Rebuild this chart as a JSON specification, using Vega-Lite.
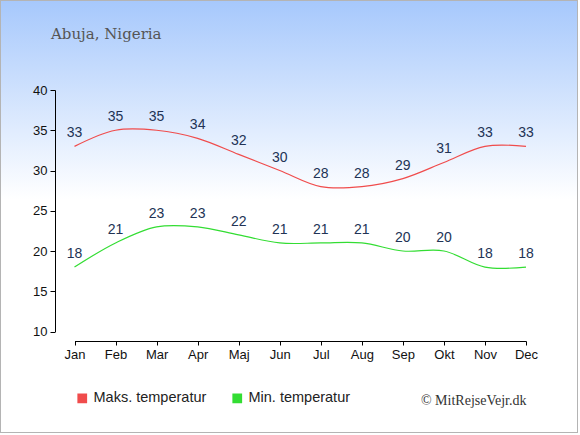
{
  "$schema": "https://vega.github.io/schema/vega-lite/v6.json",
  "width": 578,
  "height": 433,
  "padding": 0,
  "autosize": "none",
  "background": "white",
  "config": {
    "view": {
      "fill": {"gradient": "linear", "x1": 0, "y1": 0, "x2": 0, "y2": 1,
        "stops": [{"offset": 0, "color": "#a6c8fc"}, {"offset": 0.46, "color": "#ffffff"}, {"offset": 1, "color": "#ffffff"}]},
      "stroke": "#b4b4b4",
      "strokeWidth": 2
    },
    "font": "Liberation Sans"
  },
  "title": {
    "text": "Abuja, Nigeria",
    "anchor": "start",
    "frame": "group",
    "orient": "top",
    "font": "DejaVu Serif",
    "fontSize": 15,
    "fontWeight": "normal",
    "color": "#555555",
    "baseline": "alphabetic",
    "offset": 0,
    "dx": 51,
    "dy": 54
  },
  "data": {
    "values": [
      {"month": "Jan", "series": "Maks. temperatur", "temp": 33},
      {"month": "Feb", "series": "Maks. temperatur", "temp": 35},
      {"month": "Mar", "series": "Maks. temperatur", "temp": 35},
      {"month": "Apr", "series": "Maks. temperatur", "temp": 34},
      {"month": "Maj", "series": "Maks. temperatur", "temp": 32},
      {"month": "Jun", "series": "Maks. temperatur", "temp": 30},
      {"month": "Jul", "series": "Maks. temperatur", "temp": 28},
      {"month": "Aug", "series": "Maks. temperatur", "temp": 28},
      {"month": "Sep", "series": "Maks. temperatur", "temp": 29},
      {"month": "Okt", "series": "Maks. temperatur", "temp": 31},
      {"month": "Nov", "series": "Maks. temperatur", "temp": 33},
      {"month": "Dec", "series": "Maks. temperatur", "temp": 33},
      {"month": "Jan", "series": "Min. temperatur", "temp": 18},
      {"month": "Feb", "series": "Min. temperatur", "temp": 21},
      {"month": "Mar", "series": "Min. temperatur", "temp": 23},
      {"month": "Apr", "series": "Min. temperatur", "temp": 23},
      {"month": "Maj", "series": "Min. temperatur", "temp": 22},
      {"month": "Jun", "series": "Min. temperatur", "temp": 21},
      {"month": "Jul", "series": "Min. temperatur", "temp": 21},
      {"month": "Aug", "series": "Min. temperatur", "temp": 21},
      {"month": "Sep", "series": "Min. temperatur", "temp": 20},
      {"month": "Okt", "series": "Min. temperatur", "temp": 20},
      {"month": "Nov", "series": "Min. temperatur", "temp": 18},
      {"month": "Dec", "series": "Min. temperatur", "temp": 18}
    ]
  },
  "encoding": {
    "x": {
      "field": "month",
      "type": "ordinal",
      "sort": null,
      "scale": {"type": "point", "padding": 0, "range": [74.5, 526]},
      "axis": {
        "orient": "bottom",
        "offset": -92,
        "labelAngle": 0,
        "labelFont": "Liberation Sans",
        "labelFontSize": 13,
        "labelColor": "#111111",
        "labelPadding": 3,
        "tickSize": 4,
        "tickColor": "#000000",
        "domainColor": "#000000",
        "grid": false,
        "title": "© MitRejseVejr.dk",
        "titleFont": "Liberation Serif",
        "titleFontSize": 14,
        "titleFontWeight": "normal",
        "titleColor": "#333333",
        "titleX": 526,
        "titleY": 63,
        "titleAlign": "right",
        "titleAnchor": null,
        "titleBaseline": "alphabetic"
      }
    },
    "y": {
      "field": "temp",
      "type": "quantitative",
      "scale": {"domain": [10, 40], "range": [331.5, 90], "nice": false, "zero": false},
      "axis": {
        "orient": "left",
        "offset": -55,
        "values": [10, 15, 20, 25, 30, 35, 40],
        "title": null,
        "grid": false,
        "labelFont": "Liberation Sans",
        "labelFontSize": 13,
        "labelColor": "#111111",
        "labelPadding": 3,
        "tickSize": 5,
        "tickColor": "#000000",
        "domainColor": "#000000"
      }
    }
  },
  "layer": [
    {
      "mark": {"type": "line", "interpolate": "catmull-rom", "strokeWidth": 1.2},
      "encoding": {
        "color": {
          "field": "series",
          "type": "nominal",
          "scale": {"domain": ["Maks. temperatur", "Min. temperatur"], "range": ["#f04c4c", "#33dd33"]},
          "legend": {
            "orient": "none",
            "legendX": 75,
            "legendY": 391,
            "direction": "horizontal",
            "title": null,
            "symbolType": "square",
            "symbolSize": 95,
            "symbolStrokeWidth": 0,
            "labelFont": "Liberation Sans",
            "labelFontSize": 14.5,
            "labelColor": "#222222",
            "labelOffset": 4,
            "columnPadding": 23,
            "encode": {
              "symbols": {"update": {"fill": {"scale": "color", "field": "value"}, "strokeWidth": {"value": 0}}}
            }
          }
        }
      }
    },
    {
      "mark": {"type": "text", "dy": -13, "fontSize": 14, "font": "Liberation Sans", "color": "#223355", "baseline": "middle"},
      "encoding": {
        "text": {"field": "temp", "type": "quantitative"}
      }
    }
  ]
}
